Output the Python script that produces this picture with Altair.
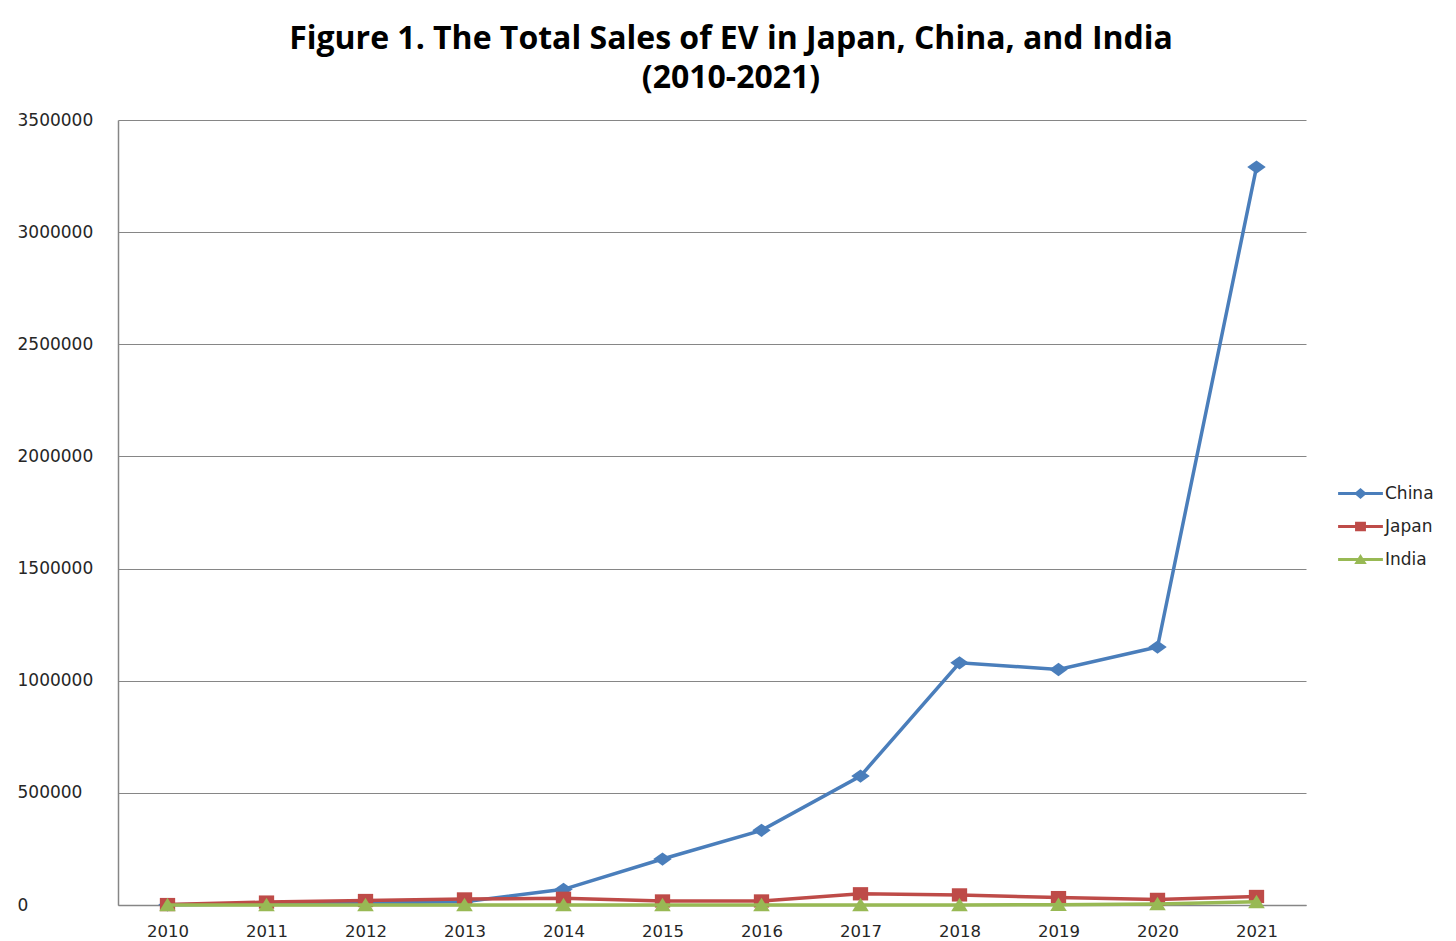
import altair as alt
import pandas as pd

# ---- data ----
years = [str(y) for y in range(2010, 2022)]
countries = ["China", "Japan", "India"]
china = [1000, 5000, 10000, 15000, 70000, 205000, 333000, 575000, 1080000, 1050000, 1150000, 3290000]
japan = [2000, 13000, 20000, 27000, 30000, 18000, 18000, 50000, 45000, 33000, 25000, 38000]
india = [0, 0, 0, 0, 0, 0, 0, 0, 0, 1000, 5000, 14000]
y_ticks = [0, 500000, 1000000, 1500000, 2000000, 2500000, 3000000, 3500000]

colors = ["#4A7EBB", "#BE4B48", "#98B954"]
# marker shapes (slightly wide, like the reference)
marker_paths = [
    "M0,-0.72L1,0L0,0.72L-1,0Z",
    "M-0.83,-0.72H0.83V0.72H-0.83Z",
    "M0,-0.78L0.9,0.68L-0.9,0.68Z",
]
# legend symbols: a short line with the marker on it
legend_paths = [
    "M-2.8,-0.19H2.8V0.19H-2.8Z M0,-0.68L0.8,0L0,0.68L-0.8,0Z",
    "M-2.8,-0.19H2.8V0.19H-2.8Z M-0.68,-0.6H0.68V0.6H-0.68Z",
    "M-2.8,-0.19H2.8V0.19H-2.8Z M0,-0.68L0.78,0.55L-0.78,0.55Z",
]

rows = []
for c, vals in zip(countries, [china, japan, india]):
    for yr, v in zip(years, vals):
        rows.append({"year": yr, "country": c, "sales": v})
df = pd.DataFrame(rows)

LABEL_FONT = "DejaVu Sans"
LABEL_COLOR = "#262626"
GRID = "#868686"

color_scale = alt.Scale(domain=countries, range=colors)

x = alt.X(
    "year:O",
    sort=years,
    axis=alt.Axis(
        title=None, labelAngle=0, ticks=False, tickSize=0, labelPadding=18,
        labelFont=LABEL_FONT, labelFontSize=16.5, labelColor=LABEL_COLOR,
        domainColor=GRID, domainWidth=1.5, grid=False,
    ),
)
y = alt.Y(
    "sales:Q",
    scale=alt.Scale(domain=[0, 3500000], nice=False),
    axis=alt.Axis(
        title=None, values=y_ticks, format="d", labelAlign="left",
        labelPadding=101, ticks=False, tickSize=0,
        labelFont=LABEL_FONT, labelFontSize=17, labelColor=LABEL_COLOR,
        grid=True, gridColor=GRID, gridWidth=1,
        domainColor=GRID, domainWidth=1.5,
    ),
)

base = alt.Chart(df)
layers = []
for c, path, colr in zip(countries, marker_paths, colors):
    sub = base.transform_filter(alt.datum.country == c)
    layers.append(sub.mark_line(strokeWidth=3.5).encode(x=x, y=y, color=alt.value(colr)))
    layers.append(
        sub.mark_point(filled=True, shape=path, size=340, opacity=1, strokeWidth=0)
        .encode(x=x, y=y, color=alt.value(colr))
    )

leg_kwargs = dict(
    title=None, orient="none", legendX=1234, legendY=365, padding=0,
    symbolSize=256, symbolOpacity=1, symbolStrokeWidth=0,
    labelOffset=16, rowPadding=15,
    labelFont=LABEL_FONT, labelFontSize=17, labelColor=LABEL_COLOR,
)
legend_layer = base.mark_point(filled=True, opacity=0, size=256).encode(
    x=x, y=y,
    color=alt.Color("country:N", scale=color_scale, legend=alt.Legend(**leg_kwargs)),
    shape=alt.Shape("country:N", scale=alt.Scale(domain=countries, range=legend_paths),
                    legend=alt.Legend(**leg_kwargs)),
)
layers.append(legend_layer)

chart = (
    alt.layer(*layers)
    .properties(
        width=1188,
        height=785,
        title=alt.TitleParams(
            text=["Figure 1. The Total Sales of EV in Japan, China, and India", "(2010-2021)"],
            font="Open Sans", fontSize=32, fontWeight="bold", color="#000000",
            anchor="middle", frame="group", dx=19, offset=16, lineHeight=39,
        ),
        autosize=alt.AutoSizeParams(type="none"),
        padding={"left": 110, "top": 112, "right": 142, "bottom": 34},
    )
    .configure(background="white")
    .configure_view(stroke=None)
)

chart.save("out.html", embed_options={"renderer": "svg", "actions": False})
